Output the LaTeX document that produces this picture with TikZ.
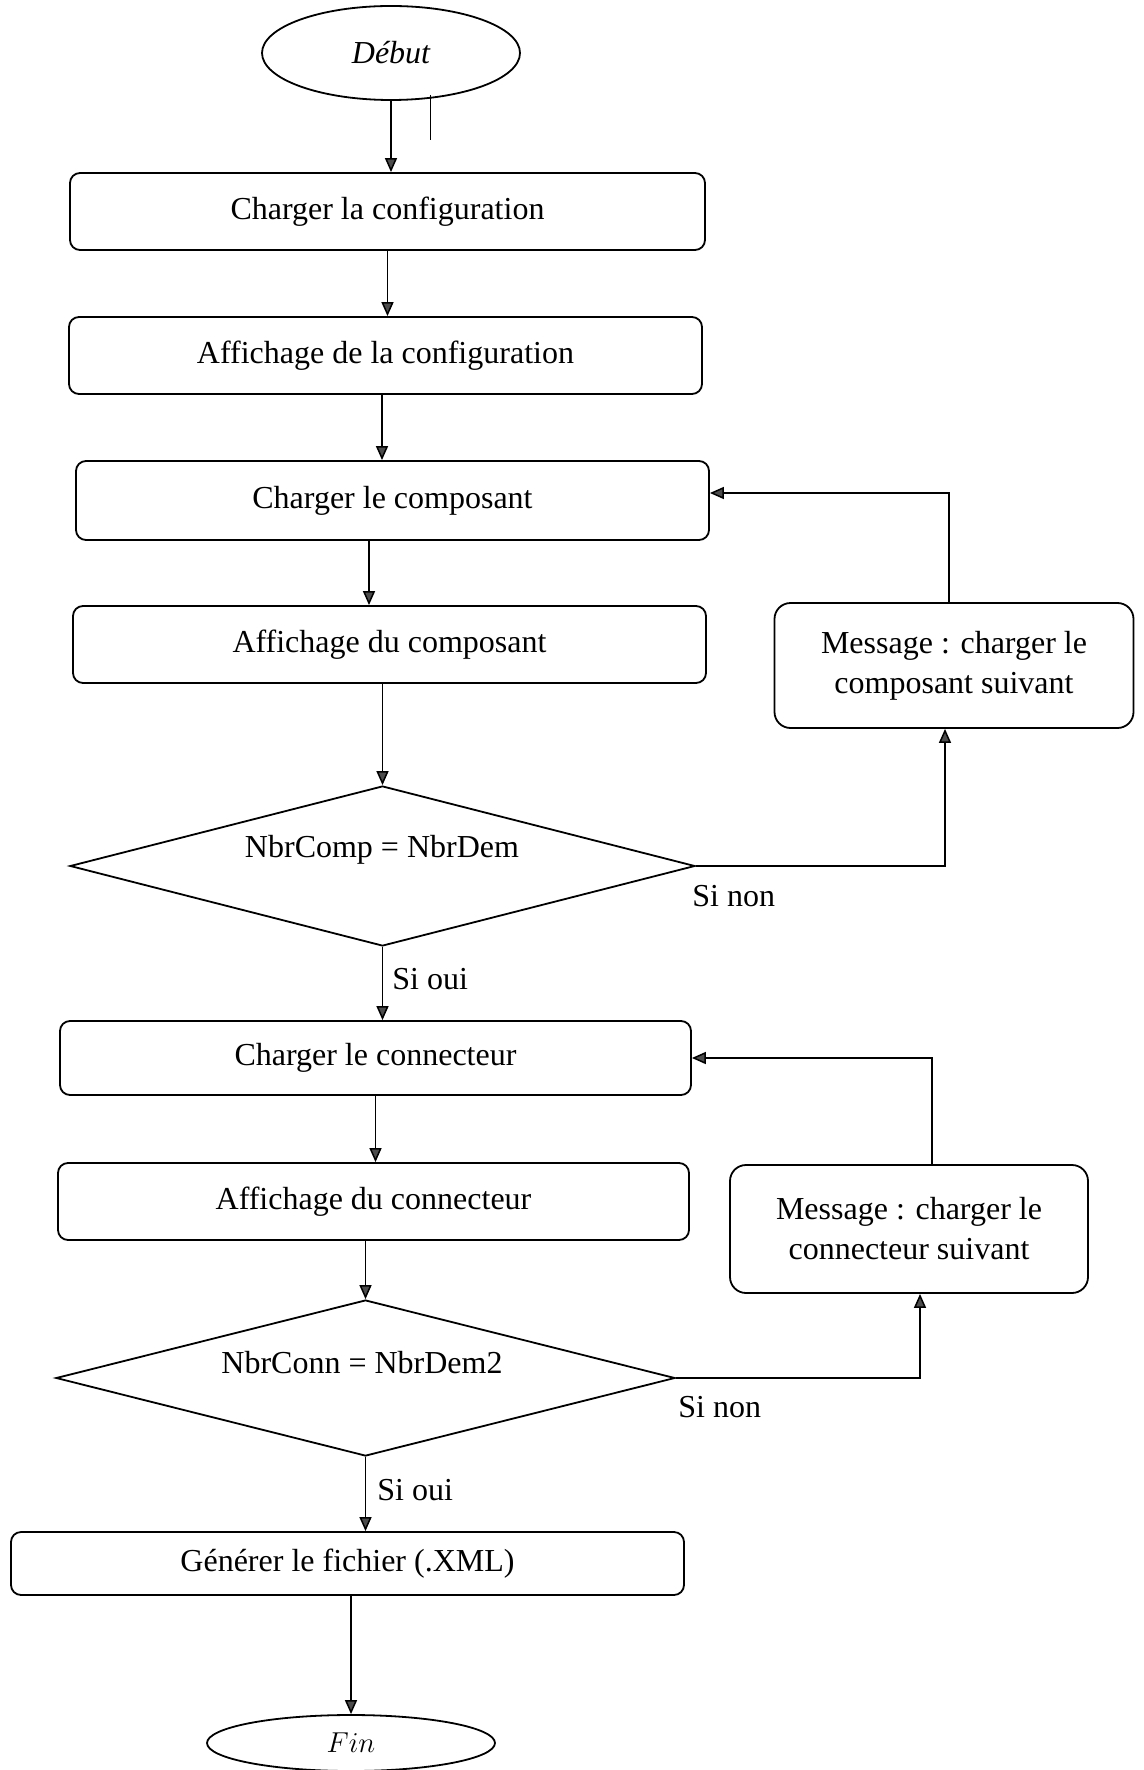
\documentclass[tikz,border=0pt]{standalone}
\usepackage{fontspec}
\setmainfont{Liberation Serif}
\usetikzlibrary{shapes.geometric,arrows.meta}
\begin{document}
\begin{tikzpicture}[x=0.5pt,y=-0.5pt,
  font=\fontsize{16}{20}\selectfont,
  box/.style={draw, rounded corners=5pt, line width=0.9pt, inner sep=0pt, align=center},
  msg/.style={box, rounded corners=8pt},
  dec/.style={draw, diamond, line width=0.9pt, inner sep=0pt},
  term/.style={draw, ellipse, line width=0.9pt, inner sep=0pt},
  arr/.style={line width=0.75pt, -{Triangle[length=7pt,width=6pt,fill=black!70]}},
  lbl/.style={inner sep=0pt, anchor=west}]

\useasboundingbox (0,0) rectangle (1144,1770);
\fill[white] (0,0) rectangle (1144,1770);

% terminals
\node[term, minimum width=129pt, minimum height=47pt] (debut) at (391,53) {\itshape Début};
\node[term, minimum width=144pt, minimum height=28pt] (fin) at (351,1743)
  {\fontsize{15}{17}\selectfont $Fin$};

% process steps
\node[box, minimum width=317.5pt, minimum height=38.5pt] (b1) at (387.5,211.5) {Charger la configuration};
\node[box, minimum width=316.5pt, minimum height=38.5pt] (b2) at (385.5,355.5) {Affichage de la configuration};
\node[box, minimum width=316.5pt, minimum height=39.5pt] (b3) at (392.5,500.5) {Charger le composant};
\node[box, minimum width=316.5pt, minimum height=38.5pt] (b4) at (389.5,644.5) {Affichage du composant};
\node[box, minimum width=315.5pt, minimum height=37pt]   (b5) at (375.5,1058) {Charger le connecteur};
\node[box, minimum width=315.5pt, minimum height=38.5pt] (b6) at (373.5,1201.5) {Affichage du connecteur};
\node[box, minimum width=336.5pt, minimum height=31.5pt] (b7) at (347.5,1563.5) {Générer le fichier (.XML)};

% messages
\node[msg, minimum width=179.5pt, minimum height=62.5pt] (m1) at (954,665.5)
  {Message : charger le\\composant suivant};
\node[msg, minimum width=179pt, minimum height=64pt] (m2) at (909,1229)
  {Message : charger le\\connecteur suivant};

% decisions
\node[dec, minimum width=312.5pt, minimum height=80pt] (d1) at (382.5,866) {};
\node[inner sep=0pt] (t1) at (382,850) {NbrComp = NbrDem};
\node[dec, minimum width=309.5pt, minimum height=78pt] (d2) at (365.5,1378) {};
\node[inner sep=0pt] (t2) at (362,1363) {NbrConn = NbrDem2};

% branch labels
\node[lbl] (yes1) at (392,979) {Si oui};
\node[lbl] (no1) at (692,896) {Si non};
\node[lbl] (yes2) at (377,1490) {Si oui};
\node[lbl] (no2) at (678,1407) {Si non};

% small mark beside the start
\coordinate (mk1) at (430,95);
\coordinate (mk2) at (430,140);
\draw[line width=0.5pt] (mk1) -- (mk2);

% main flow
\draw[arr] (debut.south) -- (debut.south |- b1.north);
\draw[arr] (b1.south) -- (b1.south |- b2.north);
\draw[arr] ([xshift=-1.75pt]b2.south) -- ([xshift=-1.75pt]b2.south |- b3.north);
\draw[arr] ([xshift=-11.75pt]b3.south) -- ([xshift=-11.75pt]b3.south |- b4.north);
\draw[arr] (b4.south -| d1.north) -- (d1.north);
\draw[arr] (d1.south) -- (d1.south |- b5.north);
\draw[arr] (b5.south) -- (b5.south |- b6.north);
\draw[arr] (b6.south -| d2.north) -- (d2.north);
\draw[arr] (d2.south) -- (d2.south |- b7.north);
\draw[arr] (b7.south -| fin.north) -- (fin.north);

% loops
\draw[arr] (d1.east) -| ([xshift=-4.5pt]m1.south);
\draw[arr] ([xshift=-2.5pt]m1.north) |- ([yshift=3.75pt]b3.east);
\draw[arr] (d2.east) -| ([xshift=5.5pt]m2.south);
\draw[arr] ([xshift=11.5pt]m2.north) |- (b5.east);
\end{tikzpicture}
\end{document}
